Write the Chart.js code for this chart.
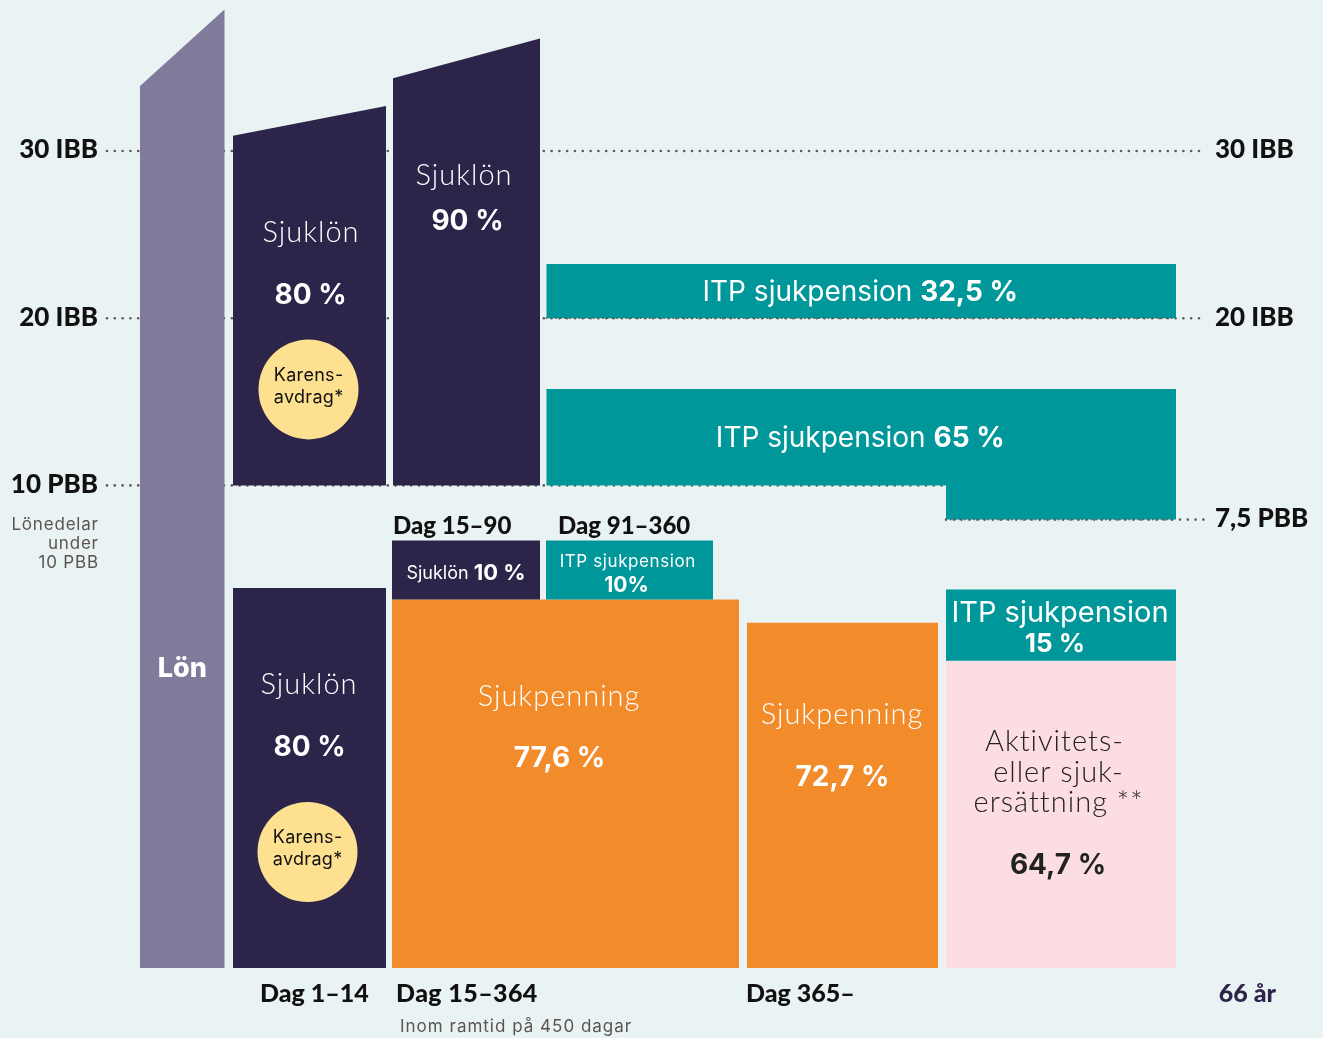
<!DOCTYPE html>
<html lang="sv">
<head>
<meta charset="utf-8">
<title>Ersättning vid sjukdom</title>
<script src="https://cdn.jsdelivr.net/npm/chart.js@4.4.1/dist/chart.umd.min.js"></script>
<style>
  html, body { margin: 0; padding: 0; background: #eaf3f4; }
  #wrap { position: relative; width: 1323px; height: 1038px; }
</style>
</head>
<body>
<div id="wrap"><canvas id="chart"></canvas></div>
<script>
// --- data ---
// y unit: percent of the salary part under 10 PBB (0 = baseline)
const periods = ['Dag 1–14', 'Dag 15–364', 'Dag 365–', '66 år'];
const subPeriods = ['Dag 15–90', 'Dag 91–360'];

const levelNames = ['30 IBB', '20 IBB', '10 PBB', '7,5 PBB'];
const levelValues = [172.0, 136.8, 101.6, 94.4];

// salary parts under 10 PBB
const lowerNames = ['Sjuklön', 'Sjukpenning', 'Sjukpenning', 'Aktivitets-|eller sjuk-|ersättning **'];
const lowerPct = [80, 77.6, 72.7, 64.7];

// top-ups on top of sjukpenning / ersättning
const topUpNames = ['Sjuklön', 'ITP sjukpension', 'ITP sjukpension'];
const topUpPct = [10, 10, 15];

// salary parts over 10 PBB
const upperNames = ['Sjuklön', 'Sjuklön', 'ITP sjukpension', 'ITP sjukpension'];
const upperPct = [80, 90, 32.5, 65];

// slanted tops [left, right]
const lonTop = [185.7, 201.8];
const sjuklon80Top = [175.2, 181.5];
const sjuklon90Top = [187.3, 195.7];
const itp325Top = 148.2;
const itp65Top = 121.9;

// --- layout (x in page units) ---
const lonX = [140, 224.5];
const colX = [[233, 386], [392, 739], [747, 938], [946, 1176]];
const subX = [[392, 540], [546, 713]];
const upper90X = [393, 540];
const itpX = [546.5, 1176];
const stepX = 946;
const minBox = 12.4; // top-up boxes never thinner than their label
const pxPerUnit = 4.75;
const yMin = -70 / pxPerUnit;
const yMax = 968 / pxPerUnit;

const C = {
  lon: '#807a9b', navy: '#2c2449', teal: '#00979b', orange: '#f28c2a',
  pink: '#fcdde2', yellow: '#fde190', dots: '#5d5853', ink: '#111111', grey: '#5a5550'
};
const HEAD = 'Lato, "Noto Sans", sans-serif';   // heavy labels and light names
const BODY = 'Inter, "Open Sans", sans-serif';   // regular texts and percentages

function level(name) { return levelValues[levelNames.indexOf(name)]; }

function dotted(ctx, x1, x2, y, gap, w) {
  ctx.save();
  ctx.strokeStyle = C.dots;
  ctx.lineWidth = w;
  ctx.lineCap = 'round';
  ctx.setLineDash([0, gap]);
  ctx.beginPath(); ctx.moveTo(x1, y); ctx.lineTo(x2, y); ctx.stroke();
  ctx.restore();
}

function poly(ctx, pts, color) {
  ctx.fillStyle = color;
  ctx.beginPath();
  pts.forEach((p, i) => i ? ctx.lineTo(p[0], p[1]) : ctx.moveTo(p[0], p[1]));
  ctx.closePath();
  ctx.fill();
}

// text with visual cap-centre at y
function txt(ctx, s, x, y, size, weight, color, align, fam, ls) {
  ctx.save();
  ctx.font = `${weight} ${size}px ${fam || BODY}`;
  ctx.letterSpacing = (ls || 0) + 'px';
  ctx.fillStyle = color;
  ctx.textAlign = align || 'center';
  ctx.textBaseline = 'alphabetic';
  // letter spacing adds trailing space, nudge centred text back
  const nudge = (align || 'center') === 'center' ? (ls || 0) / 2 : (align === 'right' ? ls || 0 : 0);
  ctx.fillText(s, x + nudge, y + size * 0.36);
  ctx.restore();
}

// light name in the boxes
function light(ctx, s, x, y, color, size) {
  txt(ctx, s, x, y, size || 29, 300, color, 'center', HEAD, 1);
}

// mixed weight line, centred on x
function mixed(ctx, parts, x, y, color) {
  let total = 0;
  parts.forEach(p => { ctx.font = `${p[2]} ${p[1]}px ${BODY}`; p.w = ctx.measureText(p[0]).width; total += p.w; });
  let cx = x - total / 2;
  parts.forEach(p => { txt(ctx, p[0], cx, y, p[1], p[2], color, 'left'); cx += p.w; });
}

const infographic = {
  id: 'infographic',
  beforeDatasetsDraw(chart) {
    const ctx = chart.ctx;
    const X = v => chart.scales.x.getPixelForValue(v);
    const Y = v => chart.scales.y.getPixelForValue(v);
    const rect = (xs, y0, y1, color) => poly(ctx, [[X(xs[0]), Y(y0)], [X(xs[0]), Y(y1)], [X(xs[1]), Y(y1)], [X(xs[1]), Y(y0)]], color);
    const slant = (xs, y0, tops, color) => poly(ctx, [[X(xs[0]), Y(y0)], [X(xs[0]), Y(tops[0])], [X(xs[1]), Y(tops[1])], [X(xs[1]), Y(y0)]], color);
    const pbb10 = level('10 PBB'), pbb75 = level('7,5 PBB'), ibb20 = level('20 IBB');

    // threshold lines behind everything
    dotted(ctx, 107, 1205, Y(level('30 IBB')), 7.8, 2.6);
    dotted(ctx, 107, 1205, Y(ibb20), 7.8, 2.6);
    dotted(ctx, 107, stepX, Y(pbb10), 7.8, 2.6);
    dotted(ctx, stepX, 1205, Y(pbb75), 7.8, 2.6);

    // Lön
    slant(lonX, 0, lonTop, C.lon);

    // under 10 PBB
    const lowColors = [C.navy, C.orange, C.orange, C.pink];
    lowerPct.forEach((v, i) => rect(colX[i], 0, v, lowColors[i]));
    const upBase = [lowerPct[1], lowerPct[1], lowerPct[3]];
    const upX = [subX[0], subX[1], colX[3]];
    const upColors = [C.navy, C.teal, C.teal];
    topUpPct.forEach((v, i) => rect(upX[i], upBase[i], upBase[i] + Math.max(v, minBox), upColors[i]));

    // over 10 PBB
    slant(colX[0], pbb10, sjuklon80Top, C.navy);
    slant(upper90X, pbb10, sjuklon90Top, C.navy);
    rect(itpX, ibb20, itp325Top, C.teal);
    poly(ctx, [[X(itpX[0]), Y(pbb10)], [X(itpX[0]), Y(itp65Top)], [X(itpX[1]), Y(itp65Top)],
      [X(itpX[1]), Y(pbb75)], [X(stepX), Y(pbb75)], [X(stepX), Y(pbb10)]], C.teal);

    // dense dots along box bottoms
    dotted(ctx, X(itpX[0]), X(itpX[1]), Y(ibb20), 4.7, 1.8);
    dotted(ctx, X(stepX), X(itpX[1]), Y(pbb75), 4.7, 1.8);

    // --- texts ---
    const W = '#ffffff';
    const cx = xs => X((xs[0] + xs[1]) / 2);
    const b10 = Y(pbb10);
    const fmt = v => String(v).replace('.', ',') + ' %';

    // threshold labels
    ['30 IBB', '20 IBB', '10 PBB'].forEach(n => txt(ctx, n, 98, Y(level(n)) - 2, 26, 900, C.ink, 'right', HEAD));
    ['30 IBB', '20 IBB', '7,5 PBB'].forEach(n => txt(ctx, n, 1215, Y(level(n)) - 2, 26, 900, C.ink, 'left', HEAD));
    ['Lönedelar', 'under', '10 PBB'].forEach((s, i) => txt(ctx, s, 98, b10 + 38 + i * 19, 17, 400, C.grey, 'right', BODY, 0.8));

    txt(ctx, 'Lön', cx(lonX), Y(0) - 301, 27, 800, W);

    // upper sjuklön
    light(ctx, upperNames[0], cx(colX[0]) + 1, b10 - 254, W);
    txt(ctx, upperPct[0] + ' %', cx(colX[0]) + 1, b10 - 191, 28, 700, W);
    light(ctx, upperNames[1], cx(upper90X) - 3, b10 - 311, W);
    txt(ctx, upperPct[1] + ' %', cx(upper90X) + 1, b10 - 265, 28, 700, W);
    mixed(ctx, [[upperNames[2] + ' ', 28, 400], [fmt(upperPct[2]), 28, 700]], cx(itpX) - 1, Y(itp325Top) + 27, W);
    mixed(ctx, [[upperNames[3] + ' ', 28, 400], [fmt(upperPct[3]), 28, 700]], cx(itpX) - 1, Y(itp65Top) + 48, W);

    // karensavdrag circles
    [[cx(colX[0]) - 1, b10 - 96], [cx(colX[0]) - 2, Y(0) - 116]].forEach(([x, y]) => {
      ctx.fillStyle = C.yellow;
      ctx.beginPath(); ctx.arc(x, y, 50, 0, Math.PI * 2); ctx.fill();
      txt(ctx, 'Karens-', x, y - 15, 18, 400, C.ink, 'center', BODY, 0.3);
      txt(ctx, 'avdrag*', x, y + 7, 18, 400, C.ink, 'center', BODY, 0.3);
    });

    // lower labels
    const lowTextColor = [W, W, W, '#222222'];
    const nameDy = [96, 96, 91];
    const nameDx = [0, -6, 0];
    lowerPct.forEach((v, i) => {
      const top = Y(v);
      const x = cx(colX[i]);
      const lines = lowerNames[i].split('|');
      if (lines.length === 1) {
        light(ctx, lines[0], x + nameDx[i] - 1, top + nameDy[i], lowTextColor[i]);
        txt(ctx, fmt(v), x + nameDx[i], top + nameDy[i] + 62, 28, 700, lowTextColor[i]);
      } else {
        lines.forEach((s, j) => light(ctx, s, x + (j ? -3 : -7), top + 80 + j * 30.5, lowTextColor[i]));
        txt(ctx, fmt(v), x - 3, top + 203, 28, 700, lowTextColor[i]);
      }
    });

    // top-up labels
    const t0 = Y(upBase[0] + Math.max(topUpPct[0], minBox));
    mixed(ctx, [[topUpNames[0] + ' ', 18, 400], [topUpPct[0] + ' %', 22, 700]], cx(subX[0]), t0 + 32, W);
    txt(ctx, topUpNames[1], cx(subX[1]) - 2, t0 + 20, 17, 400, W, 'center', BODY, 0.6);
    txt(ctx, topUpPct[1] + '%', cx(subX[1]) - 3, t0 + 44, 21, 700, W);
    const t2 = Y(upBase[2] + Math.max(topUpPct[2], minBox));
    txt(ctx, topUpNames[2], cx(colX[3]) - 1, t2 + 22, 29, 400, W);
    txt(ctx, topUpPct[2] + ' %', cx(colX[3]) - 6, t2 + 53, 26, 700, W);

    // period labels
    txt(ctx, subPeriods[0], X(subX[0][0]) + 1, t0 - 15, 24, 900, C.ink, 'left', HEAD);
    txt(ctx, subPeriods[1], X(subX[1][0]) + 12, t0 - 15, 24, 900, C.ink, 'left', HEAD);
    const yb = Y(0) + 25;
    txt(ctx, periods[0], X(colX[0][0]) + 27, yb, 25, 900, C.ink, 'left', HEAD);
    txt(ctx, periods[1], X(colX[1][0]) + 4, yb, 25, 900, C.ink, 'left', HEAD, 0.4);
    txt(ctx, periods[2], X(colX[2][0]) - 1, yb, 25, 900, C.ink, 'left', HEAD);
    txt(ctx, periods[3], 1276, yb, 25, 900, C.navy, 'right', HEAD);
    txt(ctx, 'Inom ramtid på 450 dagar', X(colX[1][0]) + 8, yb + 33, 17, 400, C.grey, 'left', BODY, 1);
  }
};

const chart = new Chart(document.getElementById('chart'), {
  type: 'scatter',
  data: { datasets: [{ data: [], pointRadius: 0 }] },
  options: {
    responsive: true,
    maintainAspectRatio: false,
    animation: false,
    layout: { padding: 0 },
    plugins: { legend: { display: false }, tooltip: { enabled: false } },
    scales: {
      x: { type: 'linear', min: 0, max: 1323, display: false },
      y: { type: 'linear', min: yMin, max: yMax, display: false }
    }
  },
  plugins: [infographic]
});
</script>
</body>
</html>
